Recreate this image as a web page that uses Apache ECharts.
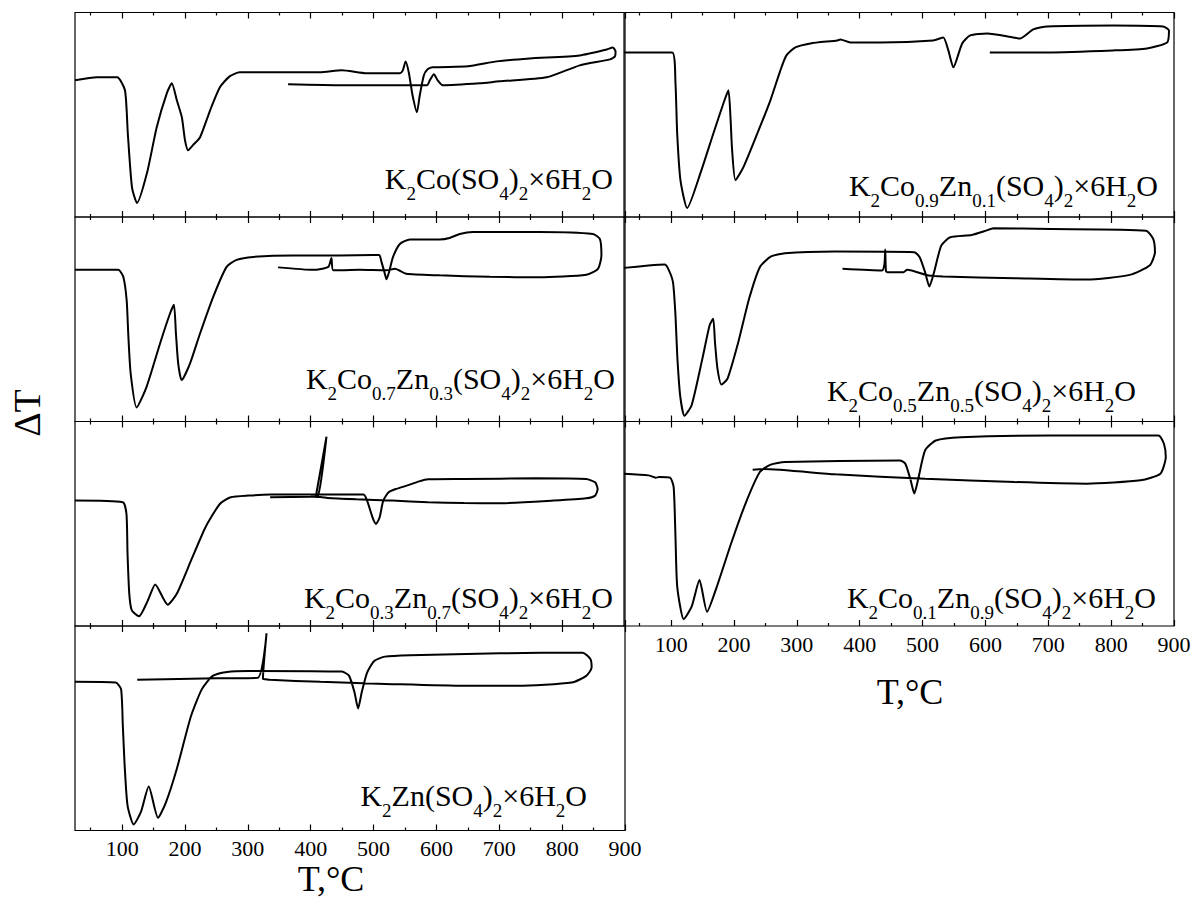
<!DOCTYPE html>
<html>
<head>
<meta charset="utf-8">
<script src="https://cdn.jsdelivr.net/npm/echarts@6/dist/echarts.min.js"></script>
<style>
html, body { margin: 0; padding: 0; background: #fff; }
#chart { width: 1192px; height: 906px; }
</style>
</head>
<body>
<div id="chart"></div>
<script>
// temperature ticks, °C
const majorTicks = [100, 200, 300, 400, 500, 600, 700, 800, 900];
const minorTicks = [50, 150, 250, 350, 450, 550, 650, 750, 850];

// DTA curves [T, ΔT (a.u.)]: heating run, then the cooling run back
const k2co = [[25,137],[60,140],[92,140],[104.5,127],[109,84],[115.6,30],[123.6,14],[139.5,44],[155,90],[171,124],[179,134],[187,117],[195,100],[200,77],[205,67],[212.6,72],[224,80],[240,107],[255.5,130],[271,141],[287,145],[350,145],[414.5,145],[449.5,147],[489,144],[542,144],[546.5,147],[551,156],[556,145],[562,122],[569,105],[573.5,122],[580,142],[586,148],[594,150],[650,151],[696,156],[748.5,159],[828,162],[871,168],[880.5,170],[885,166],[884,161],[876,158],[828,152],[775.5,140],[700,136],[669,134],[610,132],[602,137],[596,143],[589.5,137],[585,132],[542,132],[450,132],[364,133]];

const k2co09 = [[25,165],[101.6,165],[106.9,134],[109.6,84],[114.8,37],[125.5,9],[146.6,44],[167.3,84],[183.2,114],[191.1,127],[194.4,100],[197,67],[202.3,37],[215,50],[237.3,84],[257.9,117],[273.8,147],[283.4,162],[297.7,170],[321.5,174],[364.5,177],[369.2,178],[385,175],[432.8,175],[517,177],[533,180],[541,167],[549,150],[563,174],[575.8,182],[602.9,184],[644.2,180],[655.3,179],[676,188],[698.3,191],[803.2,192],[882.7,191],[892,187],[889,175],[857,169],[803.2,167],[698.3,165],[607,165]];

const k2co07 = [[25,152],[93.8,152],[101.8,145],[107.2,121.5],[109.7,88],[113.6,48],[123.1,14],[139,35],[160.2,78],[176,108],[182.4,117],[185.6,88],[189.2,58],[194.7,41.5],[207.9,58],[223.8,88],[244.9,125],[266.2,155],[282.1,162],[308.5,165],[372,166.5],[446,166.5],[499,167],[509,167],[512.6,160],[518,148],[520.6,142.5],[524.7,150],[531,165],[541.8,178],[557.7,182.5],[605,182.5],[621,184],[637,188],[658,190],[764,190],[849,188],[860,183],[862.5,166.5],[857,153],[838.6,147],[764,144.5],[685,145],[605,146.5],[552,148],[534,153],[520,151.5],[478,152],[436,151.5],[433,164],[428,155],[404,152],[348,154.5]];

const k2co05 = [[25,154],[64,156.3],[89.7,157.3],[95.4,153],[102.9,139.7],[106.9,106.3],[109.7,66.3],[114.3,26.3],[121.1,5.7],[132.6,16.3],[149.7,63],[161.1,96.3],[166.9,103],[169.7,79.7],[173.7,53],[180,37],[189.7,43],[206.9,79.7],[224,123],[241.1,154.7],[258.3,165.3],[281.1,168.7],[361.1,170.3],[486.8,169.7],[495.4,164.7],[504,149.7],[510.8,135.3],[518.3,149.7],[529.7,176.3],[544,184.7],[578.3,187],[601.1,191.3],[612.6,193.7],[704,193],[855.4,191.3],[866.9,183],[869.7,169.7],[861.1,156.3],[829.7,147],[761.1,142.3],[646.8,143.7],[532.6,145.3],[509.7,146.3],[475.4,152],[469.7,149.7],[444,149.7],[441.7,151],[440.6,172.3],[439.4,158],[435.4,151.3],[372.6,153]];

const k2co03 = [[25,125.7],[101,124],[106.9,112],[108.6,72],[111.4,32],[115.4,15.7],[126.9,9.7],[141,25.7],[152.6,41.7],[172.6,21.3],[186.9,32.3],[209.7,65.7],[232.6,99],[255.4,122.3],[272.6,129],[301,130.7],[335.4,131.7],[398.3,131.7],[484,131.7],[489.7,125.7],[498.3,109],[504,102.3],[509.7,109],[515.4,125.7],[524,134],[535.4,137.3],[552.6,140.7],[572.6,145],[586.8,147],[644,147.3],[758.3,148],[838.3,147.3],[852.5,144],[856.5,137.3],[852.5,130.7],[838.3,128],[786.8,125.7],[701,123],[644,123.3],[586.8,124],[529.7,125.7],[472.6,127],[426.9,128.3],[415.4,129.3],[408,129.3],[425.1,189.7],[411,130],[400,129.5],[335.4,129]];

const k2co01 = [[25,152.7],[64,151],[75.4,148.7],[81.1,149.3],[98.3,148.7],[104,139.3],[106.9,89.3],[109.7,39.3],[120,6.7],[132.6,19.3],[145.1,46],[157.1,14.3],[172.6,39.3],[195.4,82.7],[218.3,122.7],[241.1,154.3],[258.3,161.7],[281.1,164.3],[464,166],[472.6,162.7],[481.1,146],[486.8,132.7],[492.6,146],[504,176],[521.1,186],[561.1,189.3],[704,191],[875.4,191],[884,182.7],[886.9,169.3],[878.3,152.7],[846.8,146],[761.1,142.7],[646.8,144.3],[504,147.7],[361.1,152],[246.9,157.3],[229.7,156.7]];

const k2zn = [[25,149],[89.7,148.3],[98.3,141.7],[101.1,105],[104,65],[108.6,25],[118.3,6],[129.7,18.3],[142.3,44],[157.1,12.7],[169.7,28.3],[186.9,61.7],[209.7,115],[226.9,141.7],[244,155],[266.9,159],[301,160],[449.7,159.3],[461.1,155],[469.7,138.3],[475.4,122.3],[481.1,138.3],[489.7,158.3],[501.1,170],[518.3,174.3],[558.3,175.7],[701.1,177.7],[832.6,178.3],[845.1,171.7],[846.9,163.3],[838.3,155],[815.4,148.3],[729.7,145],[644,145],[529.7,146.7],[415.4,149],[335.4,151],[326.9,151.7],[324,152],[329.7,197.7],[315.4,153],[250,152.5],[124,151]];

// formula pieces: normal, subscript, normal, subscript ...
const labelK2Co = ['K','2','Co(SO','4',')','2','×6H','2','O'];
const labelCo09 = ['K','2','Co','0.9','Zn','0.1','(SO','4',')','2','×6H','2','O'];
const labelCo07 = ['K','2','Co','0.7','Zn','0.3','(SO','4',')','2','×6H','2','O'];
const labelCo05 = ['K','2','Co','0.5','Zn','0.5','(SO','4',')','2','×6H','2','O'];
const labelCo03 = ['K','2','Co','0.3','Zn','0.7','(SO','4',')','2','×6H','2','O'];
const labelCo01 = ['K','2','Co','0.1','Zn','0.9','(SO','4',')','2','×6H','2','O'];
const labelK2Zn = ['K','2','Zn(SO','4',')','2','×6H','2','O'];

const serif = '"Liberation Serif", "Times New Roman", serif';

// panel layout
const panels = [
  { data: k2co,   label: labelK2Co, left: 75,  top: 12.5,  lx: 613,  lb: 188, ticks: false },
  { data: k2co07, label: labelCo07, left: 75,  top: 217,   lx: 615,  lb: 388, ticks: false },
  { data: k2co03, label: labelCo03, left: 75,  top: 421.5, lx: 613,  lb: 607, ticks: false },
  { data: k2zn,   label: labelK2Zn, left: 75,  top: 626,   lx: 587,  lb: 805, ticks: true },
  { data: k2co09, label: labelCo09, left: 624, top: 12.5,  lx: 1158, lb: 195, ticks: false },
  { data: k2co05, label: labelCo05, left: 624, top: 217,   lx: 1136, lb: 400, ticks: false },
  { data: k2co01, label: labelCo01, left: 624, top: 421.5, lx: 1156, lb: 607, ticks: true }
];

function formula(parts) {
  let s = '';
  parts.forEach((p, i) => { s += '{' + (i % 2 ? 's' : 'm') + '|' + p + '}'; });
  return s;
}

const rich = {
  m: { font: '30px ' + serif, fill: '#000', lineHeight: 30 },
  s: { font: '19px ' + serif, fill: '#000', lineHeight: 30, padding: [31, 0, 0, 0] }
};

function tAxis(gi, pos, ticks, len, labels) {
  return {
    type: 'value', gridIndex: gi, position: pos, min: 25, max: 900,
    axisLine: { show: false },
    splitLine: { show: false },
    axisTick: { show: true, inside: true, length: len, customValues: ticks,
      lineStyle: { color: '#000', width: 1.2 } },
    axisLabel: labels ? {
      show: true, customValues: majorTicks, color: '#000',
      fontSize: 22, fontFamily: serif, margin: 7,
      showMinLabel: true, showMaxLabel: true
    } : { show: false }
  };
}

const grid = [], xAxis = [], yAxis = [], series = [], graphic = [];
panels.forEach((p, i) => {
  grid.push({ left: p.left, top: p.top, width: 550, height: 204.5,
    show: true, borderColor: '#000', borderWidth: 1.2, outerBoundsMode: 'none' });
  xAxis.push(tAxis(i, 'bottom', majorTicks, 6, p.ticks));
  xAxis.push(tAxis(i, 'bottom', minorTicks, 3, false));
  xAxis.push(tAxis(i, 'top', majorTicks, 6, false));
  xAxis.push(tAxis(i, 'top', minorTicks, 3, false));
  yAxis.push({ type: 'value', gridIndex: i, min: 0, max: 205, show: false });
  series.push({
    type: 'line', xAxisIndex: 4 * i, yAxisIndex: i, data: p.data,
    showSymbol: false, symbol: 'none', smooth: 0.2, silent: true,
    lineStyle: { color: '#000', width: 2 }
  });
  graphic.push({
    type: 'text', x: p.lx, y: p.lb - 25, silent: true,
    style: { text: formula(p.label), rich: rich, font: '30px ' + serif, fill: '#000',
      align: 'right', textAlign: 'right', verticalAlign: 'top', textVerticalAlign: 'top' }
  });
});

graphic.push({
  type: 'text', x: 27, y: 413, rotation: Math.PI / 2, silent: true,
  style: { text: 'ΔT', font: '38px ' + serif, fill: '#000',
    align: 'center', textAlign: 'center', verticalAlign: 'middle', textVerticalAlign: 'middle' }
});
graphic.push({
  type: 'text', x: 331, y: 879, silent: true,
  style: { text: 'T,°C', font: '36px ' + serif, fill: '#000',
    align: 'center', textAlign: 'center', verticalAlign: 'middle', textVerticalAlign: 'middle' }
});
graphic.push({
  type: 'text', x: 910, y: 692, silent: true,
  style: { text: 'T,°C', font: '36px ' + serif, fill: '#000',
    align: 'center', textAlign: 'center', verticalAlign: 'middle', textVerticalAlign: 'middle' }
});

const chart = echarts.init(document.getElementById('chart'), null, { renderer: 'svg' });
chart.setOption({
  animation: false,
  backgroundColor: '#fff',
  grid: grid,
  xAxis: xAxis,
  yAxis: yAxis,
  series: series,
  graphic: graphic
});
</script>
</body>
</html>
